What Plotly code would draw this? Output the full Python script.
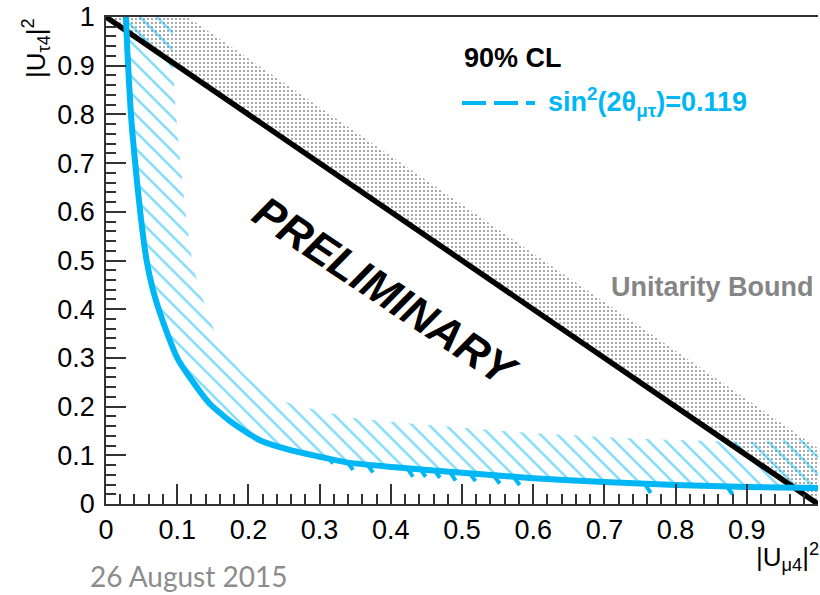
import numpy as np
import plotly.graph_objects as go

# ---------------- data ----------------
# Unitarity bound |U_mu4|^2 + |U_tau4|^2 = 1
bound_x = [0.0, 0.03, 0.1, 0.2, 0.3, 0.4, 0.5, 0.6, 0.7, 0.8, 0.9, 0.96, 1.0]
bound_y = [1.0, 0.97, 0.9, 0.8, 0.7, 0.6, 0.5, 0.4, 0.3, 0.2, 0.1, 0.04, 0.0]

# 90% CL contour for sin^2(2 theta_mu tau) = 0.119
cl_x = [0.028, 0.030, 0.035, 0.041, 0.048, 0.057, 0.065, 0.074, 0.086, 0.100,
        0.120, 0.145, 0.178, 0.216, 0.258, 0.300, 0.340, 0.410, 0.500, 0.600,
        0.700, 0.800, 0.900, 1.000]
cl_y = [1.000, 0.930, 0.800, 0.700, 0.600, 0.500, 0.445, 0.400, 0.350, 0.300,
        0.255, 0.207, 0.166, 0.131, 0.111, 0.097, 0.085, 0.075, 0.064, 0.053,
        0.045, 0.039, 0.035, 0.033]

# small contour artefacts ("teeth") hanging below the curve
teeth_x = [0.315, 0.343, 0.371, 0.427, 0.445, 0.465, 0.487, 0.515, 0.549, 0.577, 0.761, 0.876]
teeth_y = [0.097, 0.086, 0.081, 0.074, 0.072, 0.070, 0.066, 0.063, 0.058, 0.055, 0.041, 0.036]
teeth_depth = [0.014, 0.016, 0.016, 0.018, 0.016, 0.016, 0.018, 0.016, 0.016, 0.016, 0.018, 0.016]

x_ticks = [0, 0.1, 0.2, 0.3, 0.4, 0.5, 0.6, 0.7, 0.8, 0.9, 1]
x_tick_labels = ["0", "0.1", "0.2", "0.3", "0.4", "0.5", "0.6", "0.7", "0.8", "0.9", "1"]
y_ticks = x_ticks
y_tick_labels = x_tick_labels

# ---------------- layout geometry ----------------
W, H = 820, 595
ML, MR, MT, MB = 106, 2, 17, 91
SX = W - ML - MR      # pixels per unit x
SY = H - MT - MB      # pixels per unit y

BLUE = "#00B6F5"
AXC = "#333333"
FONT = "Liberation Sans, Arial, Helvetica, sans-serif"


def band(xs, ys, d_px):
    """Exclusion band of fixed pixel width on the left-hand (upper-right) side."""
    px = np.asarray(xs, float) * SX
    py = np.asarray(ys, float) * SY
    tx = np.gradient(px)
    ty = np.gradient(py)
    n = np.hypot(tx, ty)
    ox = (px - d_px * ty / n) / SX
    oy = (py + d_px * tx / n) / SY
    bx = list(xs) + list(ox[::-1]) + [xs[0]]
    by = list(ys) + list(oy[::-1]) + [ys[0]]
    return bx, by


def px2paper(x, y):
    return (x - ML) / SX, (H - MB - y) / SY


fig = go.Figure()

# dotted band along the unitarity bound
bx, by = band(bound_x, bound_y, 46)
fig.add_trace(go.Scatter(
    x=bx, y=by, mode="lines", fill="toself", line=dict(width=0),
    fillcolor="rgba(0,0,0,0)",
    fillpattern=dict(shape=".", fgcolor="black", bgcolor="rgba(0,0,0,0)",
                     size=4, solidity=0.16),
    hoverinfo="skip", showlegend=False))

# hatched band along the CL contour
hx, hy = band(cl_x, cl_y, 45)
fig.add_trace(go.Scatter(
    x=hx, y=hy, mode="lines", fill="toself", line=dict(width=0, shape="spline", smoothing=0.6),
    fillcolor="rgba(0,0,0,0)",
    fillpattern=dict(shape="\\", fgcolor=BLUE, bgcolor="rgba(0,0,0,0)",
                     size=12, solidity=0.2),
    hoverinfo="skip", showlegend=False))

# unitarity bound line
fig.add_trace(go.Scatter(x=bound_x, y=bound_y, mode="lines",
                         line=dict(color="black", width=5.5),
                         hoverinfo="skip", showlegend=False))

# CL contour
fig.add_trace(go.Scatter(x=cl_x, y=cl_y, mode="lines",
                         line=dict(color=BLUE, width=6, shape="spline", smoothing=0.6),
                         hoverinfo="skip", showlegend=False))

# teeth
tx_, ty_ = [], []
for x0, y0, dd in zip(teeth_x, teeth_y, teeth_depth):
    tx_ += [x0 - 0.004, x0 + 0.004, None]
    ty_ += [y0, y0 - dd, None]
fig.add_trace(go.Scatter(x=tx_, y=ty_, mode="lines",
                         line=dict(color=BLUE, width=4),
                         hoverinfo="skip", showlegend=False))

axis_common = dict(
    range=[0, 1], showgrid=False, zeroline=False,
    showline=True, linecolor=AXC, linewidth=1.5,
    ticks="inside", ticklen=20, tickwidth=1.5, tickcolor=AXC,
    tickfont=dict(family=FONT, size=27, color="black"),
    minor=dict(ticks="inside", ticklen=10, tickwidth=1.5, tickcolor=AXC,
               dtick=0.02, tick0=0, showgrid=False),
)

fig.update_layout(
    width=W, height=H,
    margin=dict(l=ML, r=MR, t=MT, b=MB, pad=0),
    paper_bgcolor="white", plot_bgcolor="white",
    xaxis=dict(**axis_common, tickvals=x_ticks, ticktext=x_tick_labels,
               mirror=True, ticklabelstandoff=1),
    yaxis=dict(**axis_common, tickvals=y_ticks, ticktext=y_tick_labels,
               ticklabelstandoff=4),
    font=dict(family=FONT),
)

ann = []
# 90% CL
x, y = px2paper(462, 58)
ann.append(dict(x=x, y=y, xref="paper", yref="paper", xanchor="left", yanchor="middle",
                text="<b>90% CL</b>", showarrow=False,
                font=dict(family=FONT, size=27, color="black")))
# legend entry text
x, y = px2paper(546, 102)
ann.append(dict(x=x, y=y, xref="paper", yref="paper", xanchor="left", yanchor="middle",
                text="<b>sin<sup>2</sup>(2θ<sub>μτ</sub>)=0.119</b>", showarrow=False,
                font=dict(family=FONT, size=27, color=BLUE)))
# Unitarity Bound
x, y = px2paper(816, 287)
ann.append(dict(x=x, y=y, xref="paper", yref="paper", xanchor="right", yanchor="middle",
                text="<b>Unitarity Bound</b>", showarrow=False,
                font=dict(family=FONT, size=27, color="#858585")))
# PRELIMINARY
x, y = px2paper(386, 291)
ann.append(dict(x=x, y=y, xref="paper", yref="paper", xanchor="center", yanchor="middle",
                text="<b><i>PRELIMINARY</i></b>", showarrow=False, textangle=33.7,
                font=dict(family=FONT, size=44, color="black")))
# axis titles
x, y = px2paper(821, 557)
ann.append(dict(x=x, y=y, xref="paper", yref="paper", xanchor="right", yanchor="middle",
                text="|U<sub>μ4</sub>|<sup>2</sup>", showarrow=False,
                font=dict(family=FONT, size=26, color="black")))
x, y = px2paper(36, 48)
ann.append(dict(x=x, y=y, xref="paper", yref="paper", xanchor="center", yanchor="middle",
                text="|U<sub>τ4</sub>|<sup>2</sup>", showarrow=False, textangle=-90,
                font=dict(family=FONT, size=26, color="black")))
# date
x, y = px2paper(88, 576)
ann.append(dict(x=x, y=y, xref="paper", yref="paper", xanchor="left", yanchor="middle",
                text="26 August 2015", showarrow=False,
                font=dict(family="Lato, Open Sans, sans-serif", size=28, color="#8c8c8c")))
fig.update_layout(annotations=ann)

# dashed legend sample
x0, y0 = px2paper(462, 103)
x1, _ = px2paper(535, 103)
fig.add_shape(type="line", xref="paper", yref="paper", x0=x0, x1=x1, y0=y0, y1=y0,
              line=dict(color=BLUE, width=4, dash="24px,8px"))

fig.write_html("out.html")
